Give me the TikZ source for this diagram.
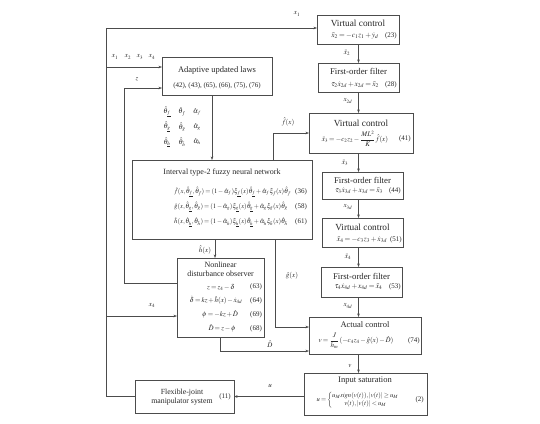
\documentclass[tikz,border=0pt]{standalone}
\usepackage{amsmath}
\usepackage{mathptmx}
\usepackage{fontspec}
\setmainfont{Liberation Serif}
\usetikzlibrary{arrows.meta,calc}
\newcommand{\tightmath}{\thinmuskip=1.5mu\medmuskip=2mu plus 1mu\thickmuskip=3mu plus 1mu}
\begin{document}
\begin{tikzpicture}[x=1pt,y=-1pt,
  box/.style={draw=black!70, line width=0.6pt, inner sep=0pt, outer sep=0pt, anchor=north west},
  ttl/.style={font=\fontsize{8.5}{10}\selectfont, inner sep=0pt, text=black!85},
  vct/.style={ttl, font=\fontsize{9.3}{10}\selectfont},
  fot/.style={ttl, font=\fontsize{8.8}{10}\selectfont},
  eq/.style={font=\fontsize{7}{8}\selectfont\tightmath, inner sep=0pt, text=black!85},
  eqr/.style={font=\fontsize{7.4}{8}\selectfont\tightmath, inner sep=0pt, text=black!85},
  eqs/.style={font=\fontsize{6.6}{8}\selectfont\tightmath, inner sep=0pt, text=black!85},
  arr/.style={draw=black!70, line width=0.6pt, -{Stealth[length=3.5pt,width=2.6pt]}}]
\useasboundingbox (0,0) rectangle (540,423);

% boxes
\node[box, minimum width=82, minimum height=29] (vc1) at (317,15) {};
\node[box, minimum width=81, minimum height=29] (fof2) at (318,63) {};
\node[box, minimum width=104, minimum height=40] (vc3) at (309,113) {};
\node[box, minimum width=81, minimum height=27] (fof4) at (322,172) {};
\node[box, minimum width=81, minimum height=29] (vc5) at (322,218) {};
\node[box, minimum width=81, minimum height=30] (fof6) at (321,267) {};
\node[box, minimum width=112, minimum height=37] (act) at (309,317) {};
\node[box, minimum width=123, minimum height=42] (sat) at (304,373) {};
\node[box, minimum width=99, minimum height=33] (fjm) at (135,380) {};
\node[box, minimum width=110, minimum height=38] (ad) at (162,57) {};
\node[box, minimum width=180, minimum height=79] (fnn) at (132,160) {};
\node[box, minimum width=87, minimum height=79] (ndo) at (177,258) {};

% box texts
\node[vct] (vc1t) at (358,23) {Virtual control};
\node[eqr] (vc1e) at (355,35.5) {$\bar{x}_2=-c_1z_1+\dot{y}_d$};
\node[eq, anchor=east] (vc1n) at (397,35.5) {(23)};

\node[fot] (fof2t) at (358.5,71.5) {First-order filter};
\node[eqr] (fof2e) at (355,85) {$\tau_2\dot{x}_{2d}+x_{2d}=\bar{x}_2$};
\node[eq, anchor=east] (fof2n) at (397,85) {(28)};

\node[vct] (vc3t) at (361,123) {Virtual control};
\node[eq] (vc3e) at (355,138.5) {$\bar{x}_3=-c_2z_2-\dfrac{ML^2}{K}\hat{f}(x)$};
\node[eq, anchor=east] (vc3n) at (411,138.5) {(41)};

\node[fot] (fof4t) at (362.5,180) {First-order filter};
\node[eqr] (fof4e) at (359,191) {$\tau_3\dot{x}_{3d}+x_{3d}=\bar{x}_3$};
\node[eq, anchor=east] (fof4n) at (401,191) {(44)};

\node[vct] (vc5t) at (362.5,227) {Virtual control};
\node[eqr] (vc5e) at (362,240) {$\bar{x}_4=-c_3z_3+\dot{x}_{3d}$};
\node[eq, anchor=east] (vc5n) at (402,240) {(51)};

\node[fot] (fof6t) at (361.5,276) {First-order filter};
\node[eqr] (fof6e) at (358.5,287) {$\tau_4\dot{x}_{4d}+x_{4d}=\bar{x}_4$};
\node[eq, anchor=east] (fof6n) at (401,287) {(53)};

\node[ttl] (actt) at (365,325) {Actual control};
\node[eq] (acte) at (356,341) {$v=\dfrac{J}{h_m}(-c_4z_4-\hat{g}(x)-\hat{D})$};
\node[eq, anchor=east] (actn) at (420,341) {(74)};

\node[ttl] (satt) at (365,381) {Input saturation};
\node[eqs] (sate) at (358,400) {$u=\left\{\begin{matrix}u_M sign(v(t)),|v(t)|\geq u_M\\ v(t),|v(t)|<u_M\end{matrix}\right.$};
\node[eq, anchor=east] (satn) at (424,400) {(2)};

\node[ttl, font=\fontsize{7.8}{9}\selectfont, align=center] (fjmt) at (182,397) {Flexible-joint\\manipulator system};
\node[eq] (fjmn) at (225,397) {(11)};

\node[ttl] (adt) at (217,70) {Adaptive updated laws};
\node[eq] (ade) at (217,86) {(42), (43), (65), (66), (75), (76)};

\node[ttl, font=\fontsize{8}{10}\selectfont] (fnnt) at (222,173) {Interval type-2 fuzzy neural network};
\node[eqs, anchor=west] (fnne1) at (174,192) {$\hat{f}(x,\hat{\theta}_{\underline{f}},\hat{\theta}_{\bar{f}})=(1-\hat{\alpha}_f)\xi_{\underline{f}}(x)\hat{\theta}_{\underline{f}}+\hat{\alpha}_f\xi_{\bar{f}}(x)\hat{\theta}_{\bar{f}}$};
\node[eqs, anchor=west] (fnne2) at (174,207) {$\hat{g}(x,\hat{\theta}_{\underline{g}},\hat{\theta}_{\bar{g}})=(1-\hat{\alpha}_g)\xi_{\underline{g}}(x)\hat{\theta}_{\underline{g}}+\hat{\alpha}_g\xi_{\bar{g}}(x)\hat{\theta}_{\bar{g}}$};
\node[eqs, anchor=west] (fnne3) at (174,222) {$\hat{h}(x,\hat{\theta}_{\underline{h}},\hat{\theta}_{\bar{h}})=(1-\hat{\alpha}_h)\xi_{\underline{h}}(x)\hat{\theta}_{\underline{h}}+\hat{\alpha}_h\xi_{\bar{h}}(x)\hat{\theta}_{\bar{h}}$};
\node[eq] (fnnn1) at (301,192) {(36)};
\node[eq] (fnnn2) at (301,207) {(58)};
\node[eq] (fnnn3) at (301,222) {(61)};

\node[ttl, font=\fontsize{8}{9}\selectfont, align=center] (ndot) at (220.5,269) {Nonlinear\\disturbance observer};
\node[eq] (ndoe1) at (221,287) {$z=z_4-\delta$};
\node[eq] (ndoe2) at (216,300.5) {$\dot{\delta}=kz+\hat{h}(x)-\dot{x}_{4d}$};
\node[eq] (ndoe3) at (220,314.5) {$\phi=-kz+\hat{D}$};
\node[eq] (ndoe4) at (222,328.5) {$\hat{D}=z-\phi$};
\node[eq] (ndon1) at (256,287) {(63)};
\node[eq] (ndon2) at (256,300.5) {(64)};
\node[eq] (ndon3) at (256,314.5) {(69)};
\node[eq] (ndon4) at (256,328.5) {(68)};

% helper coordinates
\coordinate (spine) at (358.5,0);
\coordinate (bus) at (106,28);
\coordinate (zc) at (124,88);
\coordinate (fx) at (273,0);
\coordinate (gx) at (275,0);
\coordinate (ax) at (212,0);
\coordinate (hx) at (215,0);
\coordinate (adx) at ($(ad.west)+(0,-9)$);
\coordinate (adz) at ($(ad.west)+(0,12)$);
\coordinate (ndoz) at ($(ndo.west)+(0,-14.5)$);
\coordinate (ndox) at ($(ndo.west)+(0,18.5)$);
\coordinate (actg) at ($(act.west)+(0,-8.5)$);
\coordinate (actd) at ($(act.west)+(0,15.5)$);

% connectors
\draw[arr] (vc1.south -| spine) -- (fof2.north -| spine);
\draw[arr] (fof2.south -| spine) -- (vc3.north -| spine);
\draw[arr] (vc3.south -| spine) -- (fof4.north -| spine);
\draw[arr] (fof4.south -| spine) -- (vc5.north -| spine);
\draw[arr] (vc5.south -| spine) -- (fof6.north -| spine);
\draw[arr] (fof6.south -| spine) -- (act.north -| spine);
\draw[arr] (act.south -| spine) -- (sat.north -| spine);
\draw[arr] (sat.west |- fjm.east) -- (fjm.east);
\draw[arr] (fjm.west) -| (bus) -- (bus -| vc1.west);
\draw[arr] (bus |- adx) -- (adx);
\draw[arr] (ndoz) -| (zc) -- (adz);
\draw[arr] (bus |- ndox) -- (ndox);
\draw[arr] (ad.south -| ax) -- (fnn.north -| ax);
\draw[arr] (fnn.south -| hx) -- (ndo.north -| hx);
\draw[arr] (fnn.north -| fx) |- (vc3.west);
\draw[arr] (fnn.south -| gx) |- (actg);
\draw[arr] (ndo.south) |- (actd);

% connector labels
\node[eq] (lx1) at (297,14) {$x_1$};
\node[eq] (la1) at (115,57) {$x_1$};
\node[eq] (la2) at (128,57) {$x_2$};
\node[eq] (la3) at (140,57) {$x_3$};
\node[eq] (la4) at (152,57) {$x_4$};
\node[eq] (lz) at (137,79) {$z$};
\node[eq] (t11) at (167,112) {$\hat{\theta}_{\underline{f}}$};
\node[eq] (t12) at (182,112) {$\hat{\theta}_{\bar{f}}$};
\node[eq] (t13) at (197,112) {$\hat{\alpha}_f$};
\node[eq] (t21) at (167,127) {$\hat{\theta}_{\underline{g}}$};
\node[eq] (t22) at (182,127) {$\hat{\theta}_{\bar{g}}$};
\node[eq] (t23) at (197,127) {$\hat{\alpha}_g$};
\node[eq] (t31) at (167,142) {$\hat{\theta}_{\underline{h}}$};
\node[eq] (t32) at (182,142) {$\hat{\theta}_{\bar{h}}$};
\node[eq] (t33) at (197,142) {$\hat{\alpha}_h$};
\node[eq] (lf) at (288,122) {$\hat{f}(x)$};
\node[eq] (lh) at (205,250) {$\hat{h}(x)$};
\node[eq] (lg) at (292,276) {$\hat{g}(x)$};
\node[eq] (lx4) at (152,305) {$x_4$};
\node[eq] (lD) at (270,344) {$\hat{D}$};
\node[eq] (lu) at (270,386) {$u$};
\node[eq] (lv) at (350,366) {$v$};
\node[eq] (lxb2) at (347,53) {$\bar{x}_2$};
\node[eq] (lx2d) at (348,101) {$x_{2d}$};
\node[eq] (lxb3) at (345,163) {$\bar{x}_3$};
\node[eq] (lx3d) at (348,207) {$x_{3d}$};
\node[eq] (lxb4) at (348,257) {$\bar{x}_4$};
\node[eq] (lx4d) at (348,306) {$x_{4d}$};
\end{tikzpicture}
\end{document}
